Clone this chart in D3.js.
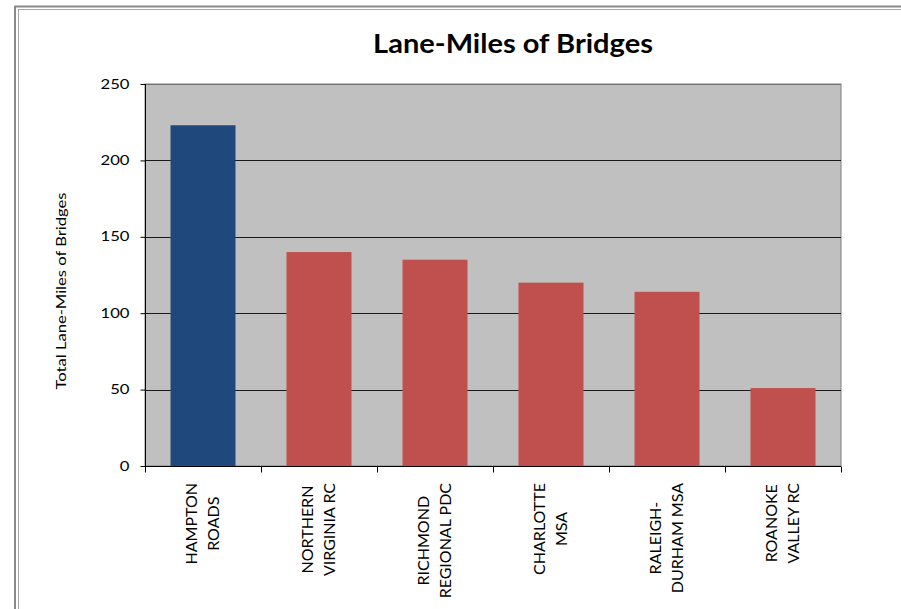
<!DOCTYPE html>
<html>
<head>
<meta charset="utf-8">
<script src="https://cdn.jsdelivr.net/npm/d3@7"></script>
<style>
  html, body { margin: 0; padding: 0; background: #ffffff; }
  svg { display: block; }
  text { font-family: Lato, "Open Sans", sans-serif; fill: #000; }
</style>
</head>
<body>
<svg id="chart" width="901" height="609"></svg>
<script>
// ---- data ----
const categories = ["HAMPTON ROADS", "NORTHERN VIRGINIA RC", "RICHMOND REGIONAL PDC", "CHARLOTTE MSA", "RALEIGH-DURHAM MSA", "ROANOKE VALLEY RC"];
const categoryLines = [["HAMPTON", "ROADS"], ["NORTHERN", "VIRGINIA RC"], ["RICHMOND", "REGIONAL PDC"], ["CHARLOTTE", "MSA"], ["RALEIGH-", "DURHAM MSA"], ["ROANOKE", "VALLEY RC"]];
const laneMiles = [223, 140, 135, 120, 114, 51];
const highlighted = ["HAMPTON ROADS"];
const yTicks = [0, 50, 100, 150, 200, 250];
const chartTitle = "Lane-Miles of Bridges";
const yAxisTitle = "Total Lane-Miles of Bridges";

// ---- layout ----
const svg = d3.select("#chart");
const plot = { left: 145, right: 841, top: 84, bottom: 466 };

// frame
svg.append("rect").attr("x", 15).attr("y", 6.5).attr("width", 1000).attr("height", 1000)
  .attr("fill", "none").attr("stroke", "#8a8a8a").attr("stroke-width", 2);
svg.append("rect").attr("x", 18.5).attr("y", 9.5).attr("width", 1000).attr("height", 1000)
  .attr("fill", "none").attr("stroke", "#a6a6a6").attr("stroke-width", 1);

const x = d3.scaleBand().domain(categories).range([plot.left, plot.right])
  .paddingInner(0.44).paddingOuter(0.22);
const y = d3.scaleLinear().domain([0, 250]).range([plot.bottom, plot.top]);

// plot background
svg.append("rect").attr("x", plot.left).attr("y", plot.top)
  .attr("width", plot.right - plot.left).attr("height", plot.bottom - plot.top)
  .attr("fill", "#c0c0c0").attr("stroke", "#808080").attr("stroke-width", 1);

// gridlines
svg.append("g").selectAll("line").data(yTicks.filter(d => d > 0)).join("line")
  .attr("x1", plot.left).attr("x2", plot.right)
  .attr("y1", d => Math.round(y(d)) + 0.5).attr("y2", d => Math.round(y(d)) + 0.5)
  .attr("stroke", d => d === 250 ? "#707070" : "#1a1a1a").attr("stroke-width", 1);

// bars
svg.append("g").selectAll("rect").data(categories).join("rect")
  .attr("x", d => x(d))
  .attr("width", x.bandwidth())
  .attr("y", (d, i) => y(laneMiles[i]))
  .attr("height", (d, i) => y(0) - y(laneMiles[i]))
  .attr("fill", d => highlighted.includes(d) ? "#1f497d" : "#c0504d");

// y axis
const yAxis = d3.axisLeft(y).tickValues(yTicks).tickSize(5).tickPadding(11);
const gy = svg.append("g").attr("transform", `translate(${plot.left + 0.5},0)`).call(yAxis);
gy.select(".domain").attr("stroke", "#000").attr("d", `M0,${plot.top}V${plot.bottom + 0.5}`);
gy.selectAll(".tick line").attr("stroke", "#000");
gy.selectAll(".tick text").attr("font-size", 13).attr("font-family", "Lato, sans-serif")
  .each(function () {
    const t = d3.select(this);
    const tx = +t.attr("x");
    t.attr("x", null).attr("transform", `translate(${tx},0) scale(1.28,1)`);
  });

// x axis
const xAxis = d3.axisBottom(x).tickSize(6).tickFormat("");
const gx = svg.append("g").attr("transform", `translate(0,${plot.bottom + 0.5})`).call(xAxis);
gx.select(".domain").attr("stroke", "#000").attr("d", `M${plot.left},0H${plot.right}`);
gx.selectAll(".tick").remove();
const bounds = [plot.left].concat(categories.map(c => x(c) - x.step() * x.paddingInner() / 2 + x.step()));
gx.selectAll("line.sep").data(bounds).join("line").attr("class", "sep")
  .attr("x1", d => Math.round(d) + 0.5).attr("x2", d => Math.round(d) + 0.5)
  .attr("y1", 0).attr("y2", 6).attr("stroke", "#000");

// category labels
const labelTop = 483;
const lineGap = 22;
const labelG = svg.append("g");
categories.forEach((c, i) => {
  const lines = categoryLines[i];
  const cx = x(c) + x.bandwidth() / 2;
  const g = labelG.append("g");
  const texts = lines.map((ln, j) => g.append("text").attr("font-size", 16)
    .attr("text-anchor", "middle").text(ln));
  const maxLen = d3.max(texts, t => t.node().getComputedTextLength());
  const cy = labelTop + maxLen / 2;
  texts.forEach((t, j) => {
    const dx = (j - (lines.length - 1) / 2) * lineGap + 5;
    t.attr("transform", `translate(${cx + dx},${cy}) rotate(-90)`);
  });
});

// y axis title (stretched along its length to match the reference span)
const yt = svg.append("text").attr("font-size", 14).attr("text-anchor", "middle").text(yAxisTitle);
const ytLen = yt.node().getComputedTextLength();
yt.attr("transform", `translate(66,291) scale(1,${197 / ytLen}) rotate(-90)`);

// chart title
const tt = svg.append("text").attr("font-size", 27).attr("font-weight", "bold").attr("text-anchor", "middle")
  .text(chartTitle);
const ttLen = tt.node().getComputedTextLength();
tt.attr("transform", `translate(513,53) scale(${280 / ttLen},1)`);
</script>
</body>
</html>
